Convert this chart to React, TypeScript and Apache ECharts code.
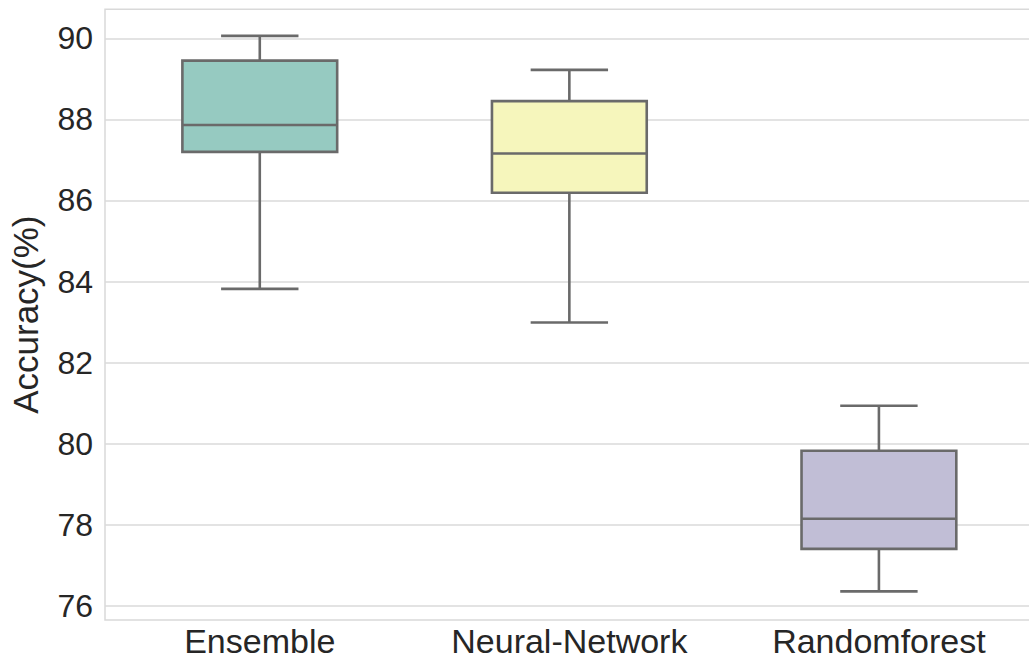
import React, { useEffect, useRef } from "react";
import * as echarts from "echarts";

const categories = ["Ensemble", "Neural-Network", "Randomforest"];
const whiskerLow = [83.82, 82.99, 76.36];
const q1 = [87.2, 86.19, 77.41];
const median = [87.86, 87.16, 78.15];
const q3 = [89.45, 88.45, 79.83];
const whiskerHigh = [90.06, 89.22, 80.94];
const yTicks = [76, 78, 80, 82, 84, 86, 88, 90];
const boxColors = ["#96cac1", "#f6f6bc", "#c1bed6"];

const LINE = "#6a6a6a";
const FONT = "'Liberation Sans', Arial, sans-serif";

export default function App() {
  const ref = useRef<HTMLDivElement>(null);
  useEffect(() => {
    if (!ref.current) return;
    const chart = echarts.init(ref.current, null, { renderer: "svg" });
    const data = categories.map((_, i) => [i, whiskerLow[i], q1[i], median[i], q3[i], whiskerHigh[i]]);
    chart.setOption({
      animation: false,
      backgroundColor: "#ffffff",
      grid: {
        left: 102.7,
        top: 9.3,
        width: 931,
        height: 610.7,
        show: true,
        borderColor: "#d9d9d9",
        borderWidth: 1.5,
        containLabel: false,
      },
      xAxis: {
        type: "category",
        data: categories,
        boundaryGap: true,
        axisLine: { show: false },
        axisTick: { show: false },
        splitLine: { show: false },
        axisLabel: { fontSize: 34, color: "#262626", fontFamily: FONT, margin: 4 },
      },
      yAxis: {
        type: "value",
        min: 75.655,
        max: 90.715,
        name: "Accuracy(%)",
        nameLocation: "middle",
        nameGap: 62,
        nameTextStyle: { fontSize: 35, color: "#262626", fontFamily: FONT },
        axisLine: { show: false },
        axisTick: { show: false, customValues: yTicks },
        axisLabel: {
          customValues: yTicks,
          fontSize: 32,
          color: "#262626",
          fontFamily: FONT,
          margin: 12,
        },
        splitLine: { show: true, lineStyle: { color: "#dadada", width: 1.5 } },
      },
      series: [
        {
          type: "custom",
          data,
          encode: { x: 0, y: [1, 2, 3, 4, 5] },
          renderItem: (params: any, api: any) => {
            const idx = api.value(0);
            const lo = api.coord([idx, api.value(1)]);
            const b1 = api.coord([idx, api.value(2)]);
            const md = api.coord([idx, api.value(3)]);
            const b3 = api.coord([idx, api.value(4)]);
            const hi = api.coord([idx, api.value(5)]);
            const band = api.size([1, 0])[0];
            const bw = band * 0.5;
            const cw = bw * 0.5;
            const x = lo[0];
            const st = { stroke: LINE, lineWidth: 2.6 };
            return {
              type: "group",
              children: [
                { type: "line", shape: { x1: x, y1: b3[1], x2: x, y2: hi[1] }, style: st },
                { type: "line", shape: { x1: x, y1: b1[1], x2: x, y2: lo[1] }, style: st },
                { type: "line", shape: { x1: x - cw / 2, y1: hi[1], x2: x + cw / 2, y2: hi[1] }, style: st },
                { type: "line", shape: { x1: x - cw / 2, y1: lo[1], x2: x + cw / 2, y2: lo[1] }, style: st },
                {
                  type: "rect",
                  shape: { x: x - bw / 2, y: b3[1], width: bw, height: b1[1] - b3[1] },
                  style: { fill: boxColors[idx], stroke: LINE, lineWidth: 2.6 },
                },
                { type: "line", shape: { x1: x - bw / 2, y1: md[1], x2: x + bw / 2, y2: md[1] }, style: st },
              ],
            };
          },
        },
      ],
    });
    return () => chart.dispose();
  }, []);
  return (
    <div
      style={{
        position: "fixed",
        left: 0,
        top: 0,
        width: 1029,
        height: 663,
        overflow: "hidden",
        background: "#fff",
      }}
    >
      <div ref={ref} style={{ width: 1045, height: 663 }} />
    </div>
  );
}
